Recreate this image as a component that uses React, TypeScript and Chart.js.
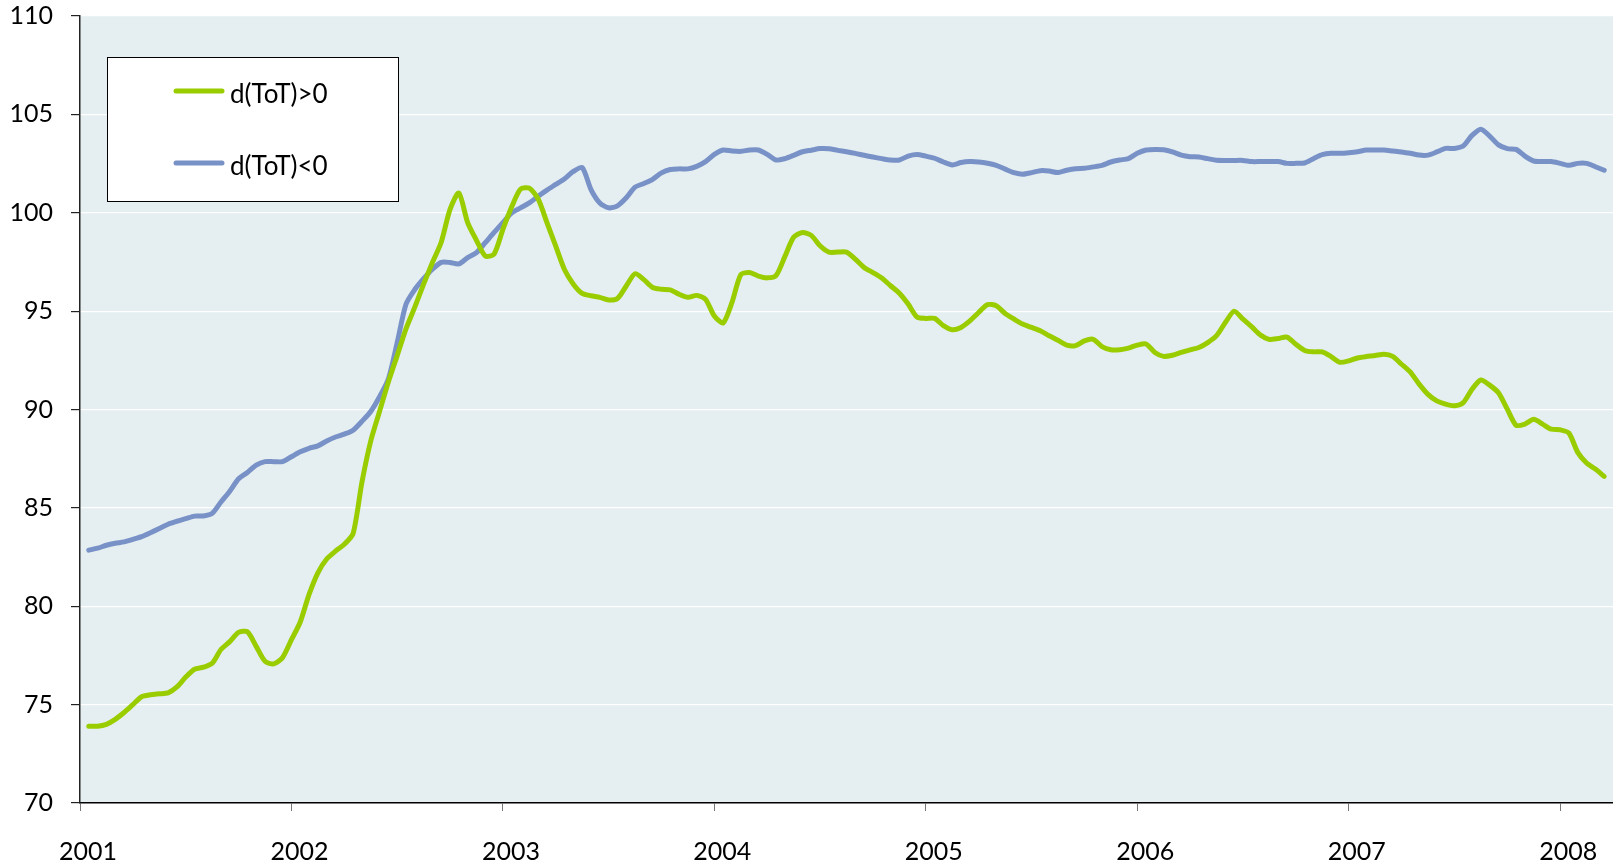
import React, { useEffect, useRef } from 'react';
import { Chart, registerables } from 'chart.js';

Chart.register(...registerables);

// ---------- data ----------
const YEARS = ['2001', '2002', '2003', '2004', '2005', '2006', '2007', '2008'];
const Y_TICKS = [70, 75, 80, 85, 90, 95, 100, 105, 110];
const SERIES_LABELS = ['d(ToT)>0', 'd(ToT)<0'];
const SERIES_COLORS = ['#9acd00', '#7892c7'];

// half-month observations, first one mid-January 2001
const FIRST_MONTH = 0.5;
const STEP_MONTHS = 0.5;
const X_MAX_MONTHS = 87;

const green2001 = [73.9, 73.9, 74.0, 74.25, 74.6, 75.0, 75.4, 75.5, 75.55, 75.6, 75.9, 76.4, 76.8, 76.9, 77.1, 77.8, 78.2, 78.67, 78.7, 77.96, 77.2, 77.07, 77.4];
const green2002 = [78.3, 79.2, 80.6, 81.7, 82.4, 82.8, 83.15, 83.7, 86.3, 88.4, 89.9, 91.4, 92.74, 94.1, 95.2, 96.37, 97.47, 98.5, 100.17, 101.0, 99.5, 98.6, 97.8, 97.9];
const green2003 = [99.15, 100.3, 101.2, 101.25, 100.7, 99.5, 98.3, 97.1, 96.37, 95.9, 95.78, 95.7, 95.57, 95.64, 96.28, 96.9, 96.6, 96.2, 96.11, 96.08, 95.86, 95.7, 95.8, 95.6];
const green2004 = [94.75, 94.4, 95.44, 96.85, 96.96, 96.78, 96.69, 96.8, 97.77, 98.75, 99.0, 98.85, 98.32, 98.0, 98.0, 98.0, 97.64, 97.22, 96.96, 96.68, 96.29, 95.91, 95.36, 94.7];
const green2005 = [94.63, 94.63, 94.26, 94.05, 94.17, 94.5, 94.93, 95.33, 95.27, 94.88, 94.6, 94.34, 94.17, 94.0, 93.75, 93.52, 93.27, 93.25, 93.49, 93.57, 93.2, 93.04, 93.04, 93.12];
const green2006 = [93.27, 93.33, 92.9, 92.7, 92.76, 92.9, 93.03, 93.15, 93.4, 93.75, 94.42, 95.0, 94.59, 94.2, 93.78, 93.56, 93.61, 93.68, 93.32, 93.0, 92.93, 92.93, 92.69, 92.4];
const green2007 = [92.47, 92.62, 92.69, 92.74, 92.81, 92.7, 92.3, 91.9, 91.29, 90.77, 90.44, 90.27, 90.19, 90.35, 91.03, 91.5, 91.24, 90.85, 90.02, 89.2, 89.26, 89.5, 89.26, 89.0];
const green2008 = [88.97, 88.8, 87.82, 87.28, 86.97, 86.6];

const blue2001 = [82.85, 82.95, 83.1, 83.2, 83.27, 83.4, 83.54, 83.74, 83.95, 84.17, 84.32, 84.45, 84.58, 84.59, 84.72, 85.3, 85.85, 86.48, 86.8, 87.17, 87.35, 87.35, 87.35];
const blue2002 = [87.6, 87.85, 88.03, 88.15, 88.4, 88.6, 88.75, 88.95, 89.4, 89.9, 90.65, 91.55, 93.4, 95.35, 96.1, 96.65, 97.13, 97.48, 97.47, 97.4, 97.72, 97.97, 98.48, 99.0];
const blue2003 = [99.5, 100.0, 100.25, 100.5, 100.84, 101.15, 101.44, 101.73, 102.1, 102.3, 101.18, 100.5, 100.25, 100.35, 100.76, 101.3, 101.49, 101.7, 102.03, 102.2, 102.23, 102.23, 102.36, 102.6];
const blue2004 = [102.97, 103.19, 103.14, 103.12, 103.19, 103.19, 102.97, 102.68, 102.75, 102.92, 103.1, 103.18, 103.26, 103.25, 103.17, 103.1, 103.02, 102.92, 102.83, 102.75, 102.68, 102.68, 102.88, 102.96];
const blue2005 = [102.88, 102.77, 102.58, 102.43, 102.55, 102.6, 102.58, 102.52, 102.41, 102.22, 102.04, 101.96, 102.04, 102.14, 102.12, 102.04, 102.16, 102.24, 102.26, 102.33, 102.41, 102.58, 102.68, 102.75];
const blue2006 = [103.02, 103.19, 103.22, 103.2, 103.09, 102.93, 102.85, 102.83, 102.75, 102.67, 102.66, 102.66, 102.66, 102.6, 102.6, 102.6, 102.6, 102.51, 102.51, 102.53, 102.75, 102.95, 103.02, 103.02];
const blue2007 = [103.05, 103.1, 103.19, 103.19, 103.19, 103.14, 103.09, 103.02, 102.93, 102.93, 103.09, 103.27, 103.27, 103.39, 103.93, 104.25, 103.9, 103.45, 103.26, 103.22, 102.88, 102.63, 102.6, 102.6];
const blue2008 = [102.51, 102.41, 102.51, 102.51, 102.34, 102.16];

const GREEN = [...green2001, ...green2002, ...green2003, ...green2004, ...green2005, ...green2006, ...green2007, ...green2008];
const BLUE = [...blue2001, ...blue2002, ...blue2003, ...blue2004, ...blue2005, ...blue2006, ...blue2007, ...blue2008];

const toPoints = (vals: number[]) => vals.map((y, i) => ({ x: FIRST_MONTH + i * STEP_MONTHS, y }));

// ---------- plugins ----------
const plotBackground = {
  id: 'plotBackground',
  beforeDraw(chart: any) {
    const { ctx, chartArea } = chart;
    ctx.save();
    ctx.fillStyle = '#e5eef0';
    ctx.fillRect(chartArea.left, chartArea.top, chartArea.right - chartArea.left, chartArea.bottom - chartArea.top);
    ctx.restore();
  },
};

const boxLegend = {
  id: 'boxLegend',
  afterDatasetsDraw(chart: any) {
    const { ctx, chartArea } = chart;
    const x0 = chartArea.left + 27;
    const y0 = chartArea.top + 41;
    const w = 291;
    const h = 144;
    ctx.save();
    ctx.fillStyle = '#ffffff';
    ctx.fillRect(x0, y0, w, h);
    ctx.strokeStyle = '#000000';
    ctx.lineWidth = 1;
    ctx.strokeRect(x0 + 0.5, y0 + 0.5, w, h);
    chart.data.datasets.forEach((ds: any, i: number) => {
      const ly = y0 + 34 + i * 72;
      ctx.strokeStyle = ds.borderColor;
      ctx.lineWidth = 5;
      ctx.lineCap = 'round';
      ctx.beginPath();
      ctx.moveTo(x0 + 69, ly);
      ctx.lineTo(x0 + 115, ly);
      ctx.stroke();
      ctx.fillStyle = '#000000';
      ctx.font = '26px Lato';
      ctx.textAlign = 'left';
      ctx.textBaseline = 'alphabetic';
      ctx.fillText(ds.label, x0 + 123, y0 + 46 + i * 72);
    });
    ctx.restore();
  },
};

export default function App() {
  const canvasRef = useRef<HTMLCanvasElement | null>(null);

  useEffect(() => {
    const canvas = canvasRef.current;
    if (!canvas) return;
    Chart.defaults.font.family = 'Lato';
    Chart.defaults.font.size = 25;
    Chart.defaults.color = '#000';

    const chart = new Chart(canvas, {
      type: 'line',
      data: {
        datasets: [
          {
            label: SERIES_LABELS[0],
            data: toPoints(GREEN),
            borderColor: SERIES_COLORS[0],
            backgroundColor: SERIES_COLORS[0],
            borderWidth: 5,
            pointRadius: 0,
            tension: 0.25,
            borderCapStyle: 'round',
            borderJoinStyle: 'round',
            fill: false,
          },
          {
            label: SERIES_LABELS[1],
            data: toPoints(BLUE),
            borderColor: SERIES_COLORS[1],
            backgroundColor: SERIES_COLORS[1],
            borderWidth: 5,
            pointRadius: 0,
            tension: 0.25,
            borderCapStyle: 'round',
            borderJoinStyle: 'round',
            fill: false,
          },
        ],
      },
      options: {
        responsive: false,
        animation: false,
        devicePixelRatio: 1,
        layout: { padding: { top: 16, right: 0, left: 0, bottom: 0 }, autoPadding: false },
        plugins: {
          legend: { display: false },
          tooltip: { enabled: false },
        },
        scales: {
          x: {
            type: 'linear',
            min: 0,
            max: X_MAX_MONTHS,
            afterBuildTicks: (scale: any) => {
              scale.ticks = YEARS.map((_, i) => ({ value: i * 12 }));
            },
            afterFit: (scale: any) => {
              scale.height = 60;
              scale.paddingLeft = 0;
              scale.paddingRight = 0;
            },
            ticks: {
              callback: (v: any) => YEARS[Math.round(Number(v) / 12)] ?? '',
              labelOffset: 8,
              padding: 26,
              maxRotation: 0,
              autoSkip: false,
              color: '#000',
              font: { family: 'Lato', size: 25 },
            },
            grid: {
              drawOnChartArea: false,
              drawTicks: true,
              tickLength: 8,
              tickColor: '#777',
            },
            border: { display: true, color: '#000', width: 1.5 },
          },
          y: {
            min: 70,
            max: 110,
            afterBuildTicks: (scale: any) => {
              scale.ticks = Y_TICKS.map((v) => ({ value: v }));
            },
            afterFit: (scale: any) => {
              scale.width = 80;
              scale.paddingTop = 0;
              scale.paddingBottom = 0;
            },
            ticks: {
              callback: (v: any) => String(v),
              padding: 18,
              color: '#000',
              font: { family: 'Lato', size: 25 },
            },
            grid: {
              color: '#ffffff',
              lineWidth: 1.2,
              drawTicks: true,
              tickLength: 9,
              tickColor: '#222',
            },
            border: { display: true, color: '#222', width: 1.5 },
          },
        },
      },
      plugins: [plotBackground, boxLegend],
    } as any);

    return () => chart.destroy();
  }, []);

  return (
    <div style={{ position: 'absolute', left: 0, top: 0, width: 1613, height: 863, background: '#fff' }}>
      <canvas ref={canvasRef} width={1613} height={863} />
    </div>
  );
}
